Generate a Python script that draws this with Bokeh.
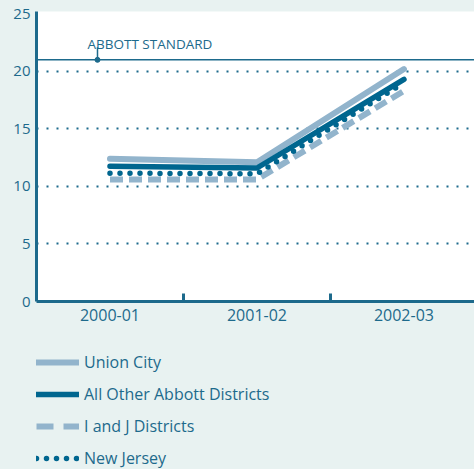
from bokeh.plotting import figure
from bokeh.layouts import column
from bokeh.models import (Range1d, FixedTicker, Span, Label, Legend, LegendItem)
from bokeh.embed import file_html
from bokeh.resources import INLINE

# ---- data ----
categories = ["2000-01", "2001-02", "2002-03"]
union_city = [12.4, 12.1, 20.2]
other_abbott = [11.75, 11.6, 19.3]
i_and_j = [10.6, 10.6, 18.3]
new_jersey = [11.15, 11.1, 19.0]
abbott_standard = 21
y_ticks = [0, 5, 10, 15, 20, 25]
grid_ticks = [5, 10, 15, 20]
series_names = ["Union City", "All Other Abbott Districts", "I and J Districts", "New Jersey"]

# ---- style ----
BG = "#e8f2f1"
TEXT = "#1d6a8c"
DARK = "#00668f"
LIGHT = "#92b4cc"
FONT = "Open Sans"

styles = [
    dict(line_color=LIGHT, line_width=6, line_cap="round", line_join="round"),
    dict(line_color=DARK, line_width=5.5, line_cap="round", line_join="round"),
    dict(line_color=LIGHT, line_width=6, line_dash="17 10"),
    dict(line_color=DARK, line_width=5.5, line_dash="0 10", line_cap="round"),
]

xs = [i + 0.5 for i in range(len(categories))]
bounds = [i for i in range(1, len(categories))]

p = figure(frame_width=438, frame_height=290, output_backend="svg", toolbar_location=None,
           x_range=Range1d(0, 2.98), y_range=Range1d(0, 25.2),
           min_border_left=36, min_border_right=0, min_border_top=11, min_border_bottom=40,
           background_fill_color="white", border_fill_color=BG,
           outline_line_color=None)

# axes
xa = p.xaxis[0]
xa.ticker = FixedTicker(ticks=xs, minor_ticks=bounds)
xa.major_label_overrides = {x: c for x, c in zip(xs, categories)}
xa.major_tick_in = 0
xa.major_tick_out = 0
xa.minor_tick_in = 8
xa.minor_tick_out = 0
xa.minor_tick_line_color = TEXT
xa.minor_tick_line_width = 3
xa.axis_line_color = TEXT
xa.axis_line_width = 3
xa.major_label_text_color = TEXT
xa.major_label_text_font = FONT
xa.major_label_text_font_size = "16px"
xa.major_label_standoff = 7

ya = p.yaxis[0]
ya.ticker = FixedTicker(ticks=y_ticks)
ya.major_tick_in = 0
ya.major_tick_out = 0
ya.minor_tick_line_color = None
ya.axis_line_color = TEXT
ya.axis_line_width = 3
ya.major_label_text_color = TEXT
ya.major_label_text_font = FONT
ya.major_label_text_font_size = "15px"
ya.major_label_standoff = 6

p.xgrid.visible = False
p.ygrid.ticker = FixedTicker(ticks=grid_ticks)
p.ygrid.grid_line_color = TEXT
p.ygrid.grid_line_width = 2
p.ygrid.grid_line_dash = "2 8"

# standard
p.add_layout(Span(location=abbott_standard, dimension="width", line_color=TEXT, line_width=1.5))
ann_x = 0.415
p.segment(x0=[ann_x], y0=[abbott_standard], x1=[ann_x], y1=[abbott_standard + 1.1],
          line_color=TEXT, line_width=1.5)
p.scatter(x=[ann_x], y=[abbott_standard], size=5, color=TEXT)
p.add_layout(Label(x=ann_x, y=abbott_standard, x_offset=-10, y_offset=16,
                   text="ABBOTT STANDARD", text_font=FONT, text_font_size="13.5px",
                   text_color=TEXT, text_baseline="alphabetic"))

# series (drawing order: dashed, union city, other abbott, new jersey)
r_ij = p.line(xs, i_and_j, **dict(styles[2], line_dash="13 6"))
r_uc = p.line(xs, union_city, **styles[0])
r_oa = p.line(xs, other_abbott, **styles[1])
r_nj = p.line(xs, new_jersey, **styles[3])

# legend panel
q = figure(width=474, height=128, output_backend="svg", toolbar_location=None,
           x_range=Range1d(0, 1), y_range=Range1d(0, 1),
           min_border=0, min_border_left=0, min_border_right=0, min_border_top=0, min_border_bottom=0,
           background_fill_color=None, border_fill_color=None, outline_line_color=None)
q.axis.visible = False
q.grid.visible = False
nan = float("nan")
dummies = [q.line(x=[nan, nan], y=[nan, nan], **s) for s in styles]

legend = Legend(items=[LegendItem(label=n, renderers=[r]) for n, r in zip(series_names, dummies)],
                location=(0, 0), orientation="vertical",
                glyph_width=43, glyph_height=20, label_height=20, spacing=10,
                label_standoff=5, padding=0, margin=0,
                label_text_font=FONT, label_text_font_size="16px", label_text_color=TEXT,
                background_fill_alpha=0, border_line_alpha=0)
q.add_layout(legend, "center")

layout = column(p, q, spacing=0, styles={"background-color": BG})
open("out.html", "w").write(file_html(layout, INLINE))
